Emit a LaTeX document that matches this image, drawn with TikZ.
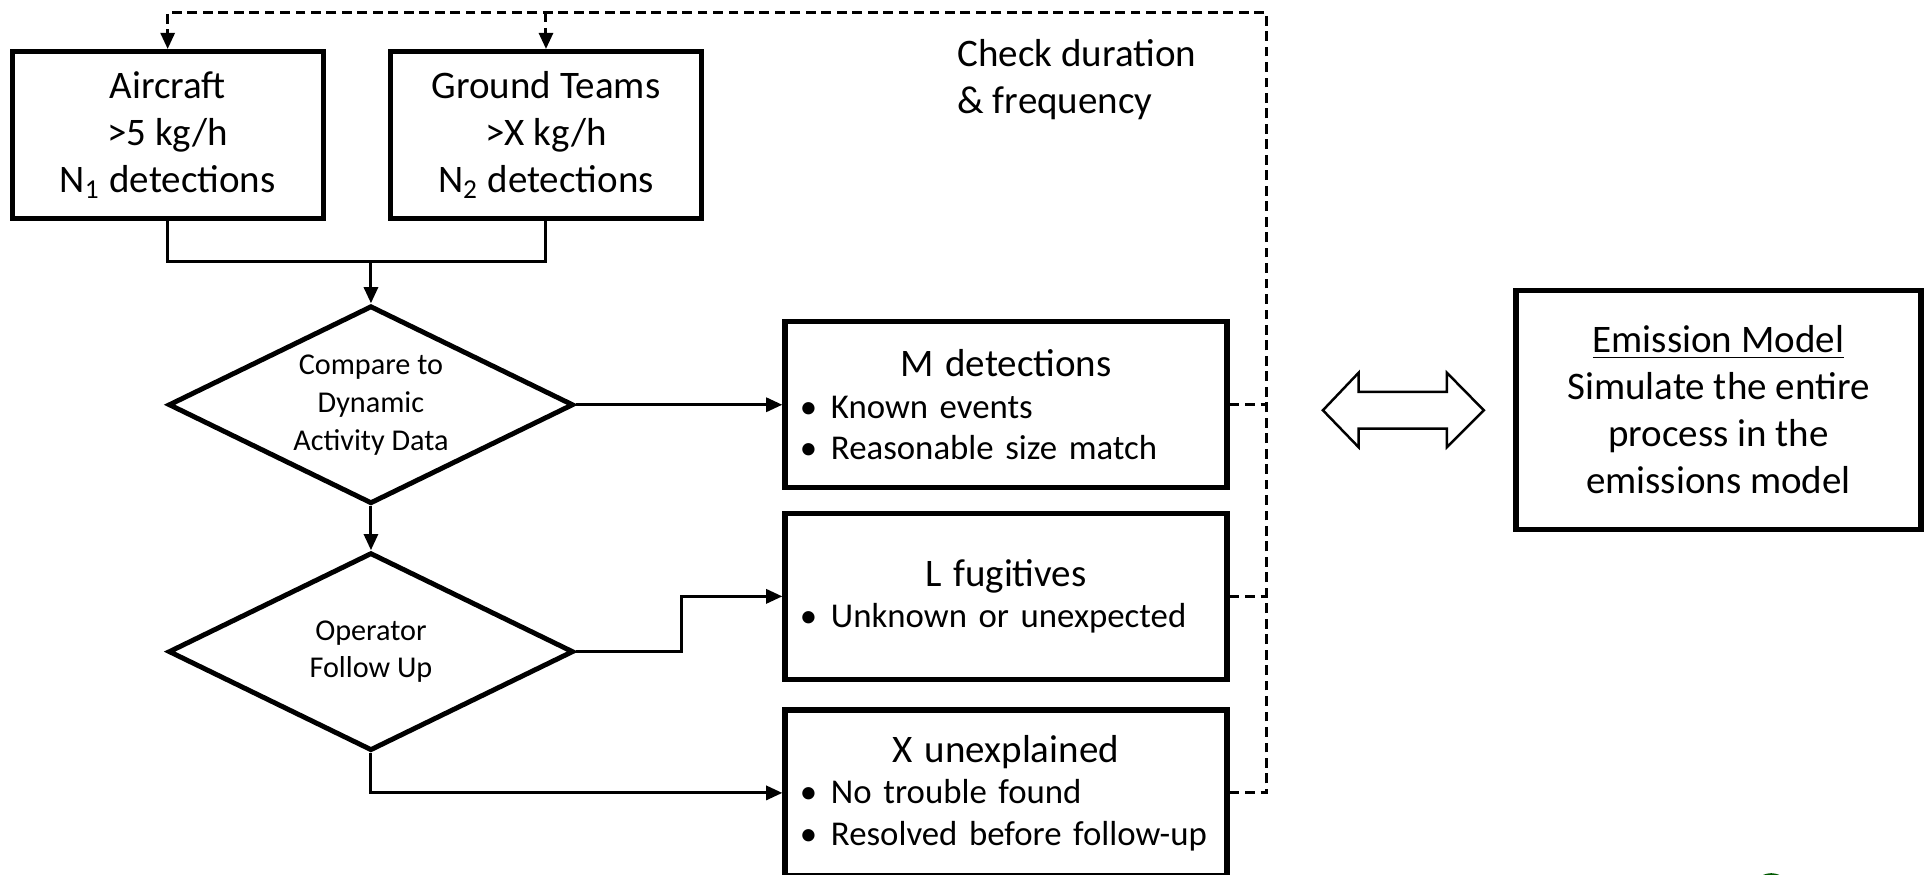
\documentclass[tikz,border=0pt]{standalone}
\usepackage{fontspec}
\setmainfont{Carlito}
\usetikzlibrary{shapes.geometric,arrows.meta}
\newcommand\itm[1]{\par\makebox[0.4cm][l]{\hspace{0.09cm}\textbullet}#1}
\newcommand\ttl[1]{{\centering\fontsize{11.1}{13.4}\selectfont #1\par}}
\tikzstyle{arrow} = [line width=0.85pt,-{Triangle[length=4.6pt,width=4pt]}]
\tikzstyle{fback} = [line width=0.85pt,dash pattern=on 2.8pt off 1.6pt]
\tikzstyle{srcbox} = [draw,line width=1.5pt,minimum width=3.11cm,minimum height=1.67cm,align=center,inner sep=0pt,font=\fontsize{11.1}{13.4}\selectfont]
\tikzstyle{resbox} = [draw,line width=1.5pt,minimum width=4.42cm,minimum height=1.66cm,text width=4.3cm,inner sep=0.06cm,align=left,font=\fontsize{9.9}{11.8}\selectfont]
\tikzstyle{decide} = [diamond,draw,line width=1.4pt,aspect=2.05,minimum width=4.05cm,minimum height=1.98cm,inner sep=0pt,align=center,font=\fontsize{8.6}{10.8}\selectfont]

\begin{document}
\begin{tikzpicture}[x=0.01228cm,y=-0.01228cm]
\useasboundingbox (0,0) rectangle (1568,712);

% sources
\node[srcbox] (air) at (136.5,110) {Aircraft\\>5 kg/h\\N\textsubscript{1} detections};
\node[srcbox] (gnd) at (444.5,110) {Ground Teams\\>X kg/h\\N\textsubscript{2} detections};

% decisions
\node[decide] (cmp) at (302,329.5) {Compare to\\Dynamic\\Activity Data};
\node[decide] (opf) at (302,530.5) {Operator\\Follow Up};

% results
\node[resbox] (mdet) at (819,329.5) {\ttl{M detections}\itm{Known events}\itm{Reasonable size match}};
\node[resbox] (lfug) at (819,485.5) {\ttl{L fugitives}\itm{Unknown or unexpected}};
\node[resbox] (xun) at (819,645.5) {\ttl{X unexplained}\itm{No trouble found}\itm{Resolved before follow-up}};

\node[anchor=west,align=left,inner sep=0pt,font=\fontsize{11.1}{13.4}\selectfont] (chk) at (779,65) {Check duration\\\& frequency};

% model
\draw[line width=0.7pt,line join=miter] (1077,334) -- (1106,303.5) -- (1106,319) -- (1178,319) -- (1178,303.5)
  -- (1208,334) -- (1178,364) -- (1178,349) -- (1106,349) -- (1106,364) -- cycle; % double arrow
\node[draw,line width=1.5pt,minimum width=4.05cm,minimum height=2.39cm,align=center,inner sep=0pt,font=\fontsize{11.1}{13.4}\selectfont] (emis) at (1399,333.5) {\underline{Emission Model}\\Simulate the entire\\process in the\\emissions model};

\coordinate (jn) at (302,213);
\coordinate (tr) at (1031,10);

\draw[line width=0.85pt] (air.south) |- (jn) -| (gnd.south); % air-gnd
\draw[arrow] (jn) -- (cmp.north); % gnd-cmp
\draw[arrow] (cmp.south) -- (opf.north); % cmp-opf
\draw[arrow] (cmp.east) -- (mdet.west); % cmp-mdet
\draw[arrow] (opf.east) -- ++(86,0) |- (lfug.west); % opf-lfug
\draw[arrow] (opf.south) |- (xun.west); % opf-xun

% feedback loop
\draw[fback] (mdet.east) -- (mdet.east -| tr);
\draw[fback] (lfug.east) -- (lfug.east -| tr);
\draw[fback,-{Triangle[length=4.6pt,width=4pt]}] (xun.east) -| (tr) -| (air.north);
\draw[fback,-{Triangle[length=4.6pt,width=4pt]}] (gnd.north |- tr) -- (gnd.north);

\draw[green!35!black,line width=0.8pt] (1442,727) circle[radius=0.184cm];

\end{tikzpicture}
\end{document}
